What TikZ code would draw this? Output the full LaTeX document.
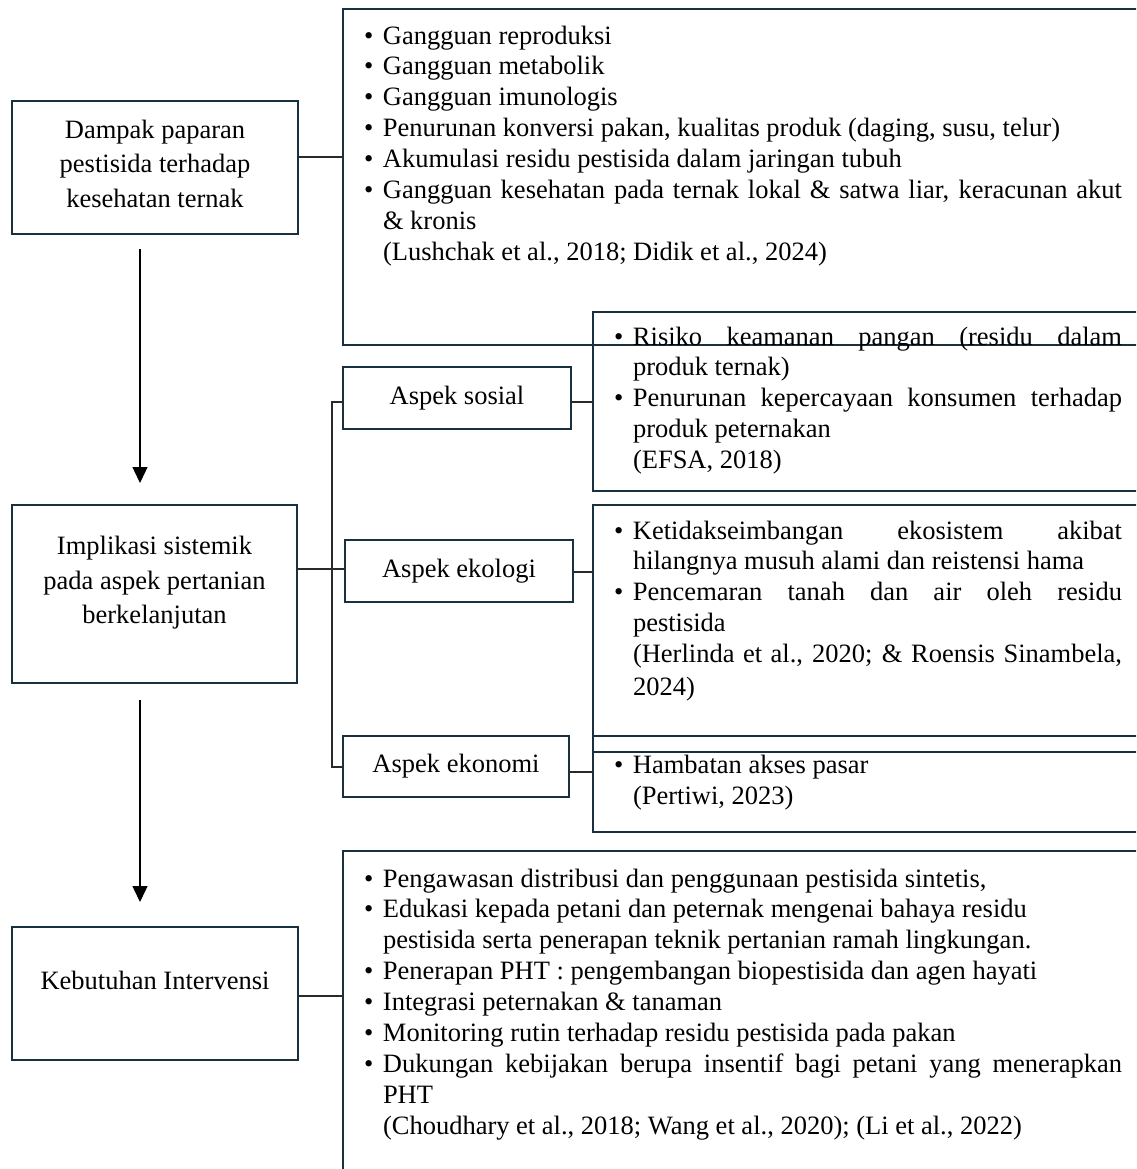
\documentclass[tikz,border=0pt]{standalone}
\usepackage{fontspec}
\setmainfont{Liberation Serif}
\usetikzlibrary{arrows.meta,calc}
\definecolor{navy}{HTML}{18303F}
\definecolor{lnk}{HTML}{2A2A2A}
\newcommand{\bul}{\makebox[19pt][l]{\textbullet}}
\newcommand{\ind}{\hspace*{19pt}}
\newcommand{\jus}[2]{\makebox[#1pt][s]{#2}}
\tikzset{
  box/.style={draw=navy, line width=2.8pt, rectangle, inner sep=0pt, outer sep=0pt},
  conn/.style={draw=lnk, line width=1.3pt},
  arr/.style={draw=black, line width=1.4pt, -{Triangle[width=15pt,length=16pt]}},
  ctext/.style={anchor=north, inner sep=0pt, outer sep=0pt, align=center, font={\fontsize{26.5}{34.5}\selectfont}},
  ltext/.style={anchor=north west, inner sep=0pt, outer sep=0pt, align=left, font={\fontsize{26.5}{30.9}\selectfont}},
}
\begin{document}
\begin{tikzpicture}[x=1pt, y=-1pt, font={\fontsize{26.5}{30.9}\selectfont}]
\useasboundingbox (0,0) rectangle (1136,1169);
\clip (0,0) rectangle (1136,1169);

% left column boxes
\node[box, minimum width=286pt, minimum height=133pt] (dampak) at (155,167.5) {};
\node[ctext] (dampakt) at (155,114) {\strut Dampak paparan\\\strut pestisida terhadap\\\strut kesehatan ternak};
\node[box, minimum width=285pt, minimum height=178pt] (impl) at (154.5,594) {};
\node[ctext] (implt) at (154.5,530.8) {\strut Implikasi sistemik\\\strut pada aspek pertanian\\\strut berkelanjutan};
\node[box, minimum width=286pt, minimum height=133pt] (keb) at (155,993.5) {};
\node[ctext] (kebt) at (155,965) {\strut Kebutuhan Intervensi};

% aspect boxes
\node[box, minimum width=228pt, minimum height=62pt] (sosial) at (457,398) {Aspek sosial};
\node[box, minimum width=228pt, minimum height=62pt] (ekologi) at (459,571) {Aspek ekologi};
\node[box, minimum width=226pt, minimum height=61pt] (ekonomi) at (456,766.5) {Aspek ekonomi};

% right boxes
\node[box, anchor=north west, minimum width=830pt, minimum height=336pt] (top) at (343,9) {};
\node[box, anchor=north west, minimum width=580pt, minimum height=179pt] (social) at (593,312) {};
\node[box, anchor=north west, minimum width=580pt, minimum height=247pt] (ecol) at (593,505) {};
\node[box, anchor=north west, minimum width=580pt, minimum height=96pt] (econ) at (593,736) {};
\node[box, anchor=north west, minimum width=830pt, minimum height=400pt] (bottom) at (343,851) {};

% texts in right boxes
\node[ltext] (topt) at (364,22.4) {%
\strut\bul Gangguan reproduksi\\%
\strut\bul Gangguan metabolik\\%
\strut\bul Gangguan imunologis\\%
\strut\bul Penurunan konversi pakan, kualitas produk (daging, susu, telur)\\%
\strut\bul Akumulasi residu pestisida dalam jaringan tubuh\\%
\strut\bul\jus{739}{Gangguan kesehatan pada ternak lokal \& satwa liar, keracunan akut}\\%
\strut\ind\& kronis\\%
\strut\ind(Lushchak et al., 2018; Didik et al., 2024)};

\node[ltext] (socialt) at (614,323.4) {%
\strut\bul\jus{489}{Risiko keamanan pangan (residu dalam}\\%
\strut\ind produk ternak)\\%
\strut\bul\jus{489}{Penurunan kepercayaan konsumen terhadap}\\%
\strut\ind produk peternakan\\%
\strut\ind(EFSA, 2018)};

\node[ltext] (ecolt) at (614,517.4) {%
\strut\bul\jus{489}{Ketidakseimbangan ekosistem akibat}\\%
\strut\ind hilangnya musuh alami dan reistensi hama\\%
\strut\bul\jus{489}{Pencemaran tanah dan air oleh residu}\\%
\strut\ind pestisida\\%
\strut\ind\jus{489}{(Herlinda et al., 2020; \& Roensis Sinambela,}\\[2pt]%
\strut\ind 2024)};

\node[ltext] (econt) at (614,752) {%
\strut\bul Hambatan akses pasar\\%
\strut\ind(Pertiwi, 2023)};

\node[ltext] (bottomt) at (364,865.4) {%
\strut\bul Pengawasan distribusi dan penggunaan pestisida sintetis,\\%
\strut\bul Edukasi kepada petani dan peternak mengenai bahaya residu\\%
\strut\ind pestisida serta penerapan teknik pertanian ramah lingkungan.\\%
\strut\bul Penerapan PHT : pengembangan biopestisida dan agen hayati\\%
\strut\bul Integrasi peternakan \& tanaman\\%
\strut\bul Monitoring rutin terhadap residu pestisida pada pakan\\%
\strut\bul\jus{739}{Dukungan kebijakan berupa insentif bagi petani yang menerapkan}\\%
\strut\ind PHT\\%
\strut\ind(Choudhary et al., 2018; Wang et al., 2020); (Li et al., 2022)};

% connectors
\coordinate (brT) at (332,402);
\coordinate (brB) at (332,767);
\draw[conn] (dampak.east |- 0,157) -- (top.west |- 0,157);
\draw[conn] (impl.east |- 0,569) -- (ekologi.west |- 0,569);
\draw[conn] (sosial.west |- brT) -- (brT) -- (brB) -- (ekonomi.west |- brB);
\draw[conn] (sosial.east |- 0,402) -- (social.west |- 0,402);
\draw[conn] (ekologi.east |- 0,572) -- (ecol.west |- 0,572);
\draw[conn] (ekonomi.east |- 0,772) -- (econ.west |- 0,772);
\draw[conn] (keb.east |- 0,996) -- (bottom.west |- 0,996);

% arrows
\draw[arr] ($(dampak.south -| 140,0)+(0,15)$) -- ($(impl.north -| 140,0)+(0,-22)$);
\draw[arr] ($(impl.south -| 140,0)+(0,17)$) -- ($(keb.north -| 140,0)+(0,-25)$);
\end{tikzpicture}
\end{document}
